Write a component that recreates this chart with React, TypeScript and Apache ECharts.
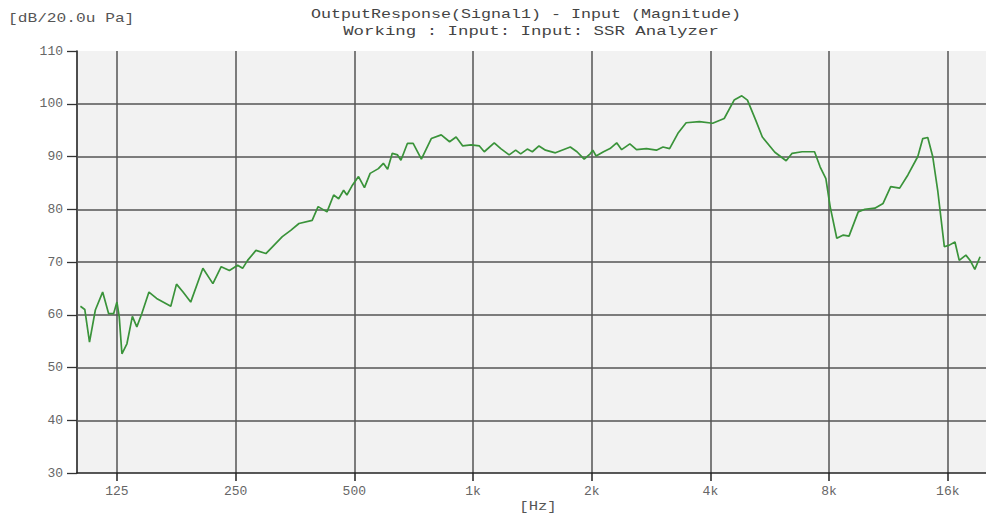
import React, { useEffect, useRef } from "react";
import * as echarts from "echarts";

const freqHz = [101, 103.6, 106.5, 110.2, 115, 119.1, 122.6, 125, 126.7, 128.7, 132.5, 136.8, 140.4, 144.5, 150.7, 157.6, 171.2, 177, 183.9, 192.3, 206.5, 218.9, 229.8, 241.1, 253, 260.4, 268.1, 281.5, 298.3, 313, 328.4, 344.9, 361.9, 390.9, 404.7, 426.3, 443.2, 456.3, 469.7, 478.8, 492.9, 512.4, 530.5, 548.4, 575.4, 592.4, 607.3, 624.1, 643.6, 656.4, 682, 705, 739.7, 783.8, 830.6, 872.1, 906, 941.9, 988.4, 1038, 1068, 1132, 1176, 1235, 1283, 1321, 1373, 1414, 1470, 1527, 1618, 1765, 1835, 1914, 1982, 2013, 2052, 2143, 2226, 2314, 2382, 2499, 2598, 2753, 2918, 3033, 3152, 3309, 3472, 3751, 4053, 4336, 4595, 4805, 4966, 5211, 5417, 5828, 6226, 6446, 6831, 7348, 7595, 7851, 8049, 8368, 8694, 8987, 9485, 9860, 10450, 10965, 11465, 12079, 12675, 13431, 13826, 14233, 14651, 15084, 15680, 16143, 16685, 17106, 17783, 18232, 18736, 19319];

const levelDb = [61.6, 61.0, 54.8, 60.9, 64.3, 60.2, 60.2, 62.4, 59.6, 52.6, 54.5, 59.7, 57.7, 60.2, 64.3, 63.1, 61.6, 65.8, 64.3, 62.4, 68.8, 65.9, 69.1, 68.4, 69.4, 68.8, 70.3, 72.2, 71.6, 73.2, 74.8, 76.0, 77.3, 77.9, 80.5, 79.5, 82.7, 82.0, 83.6, 82.7, 84.4, 86.2, 84.1, 86.8, 87.7, 88.7, 87.6, 90.6, 90.3, 89.3, 92.5, 92.5, 89.5, 93.4, 94.1, 92.8, 93.7, 92.0, 92.2, 92.0, 90.9, 92.6, 91.5, 90.3, 91.2, 90.5, 91.4, 90.9, 92.0, 91.2, 90.7, 91.8, 90.9, 89.5, 90.5, 91.2, 90.1, 90.9, 91.5, 92.6, 91.3, 92.4, 91.3, 91.5, 91.2, 91.8, 91.5, 94.4, 96.4, 96.6, 96.3, 97.2, 100.7, 101.5, 100.7, 96.9, 93.7, 90.8, 89.2, 90.6, 90.9, 90.9, 88.0, 85.8, 80.5, 74.5, 75.1, 74.9, 79.5, 80.0, 80.2, 81.1, 84.3, 84.0, 86.5, 90.0, 93.4, 93.6, 90.0, 83.6, 72.9, 73.2, 73.8, 70.3, 71.3, 70.3, 68.6, 71.0];

const xTickValues = [125, 250, 500, 1000, 2000, 4000, 8000, 16000];
const yGridValues = [40, 50, 60, 70, 80, 90, 100];
const yUnitLabel = "[dB/20.0u Pa]";
const xUnitLabel = "[Hz]";
const titleLine1 = "OutputResponse(Signal1) - Input (Magnitude)";
const titleLine2 = "Working : Input: Input: SSR Analyzer";

const MONO = "'Liberation Mono', 'DejaVu Sans Mono', monospace";
const GRID_COLOR = "#555555";
const AXIS_COLOR = "#222222";

export default function App() {
  const ref = useRef<HTMLDivElement>(null);
  useEffect(() => {
    document.body.style.margin = "0";
    const chart = echarts.init(ref.current!, undefined, { renderer: "svg" });
    const data = freqHz.map((f, i) => [f, levelDb[i]]);
    chart.setOption({
      animation: false,
      backgroundColor: "#ffffff",
      grid: {
        left: 77,
        top: 51,
        bottom: 42,
        right: -6,
        show: false,
      },
      xAxis: {
        type: "log",
        min: 99,
        max: 20000,
        axisLine: { show: true, lineStyle: { color: AXIS_COLOR, width: 1.6 } },
        axisTick: {
          show: true,
          length: 8,
          customValues: xTickValues,
          lineStyle: { color: AXIS_COLOR, width: 1.5 },
        },
        axisLabel: {
          customValues: xTickValues,
          margin: 12,
          color: "#666",
          fontFamily: MONO,
          fontSize: 13,
          formatter: (v: number) => (v >= 1000 ? v / 1000 + "k" : String(v)),
        },
        splitLine: {
          show: true,
          lineStyle: { color: GRID_COLOR, width: 1.5 },
        },
        minorSplitLine: { show: false },
      },
      yAxis: {
        type: "value",
        min: 30,
        max: 110,
        interval: 10,
        axisLine: { show: true, lineStyle: { color: AXIS_COLOR, width: 1.6 } },
        axisTick: { show: true, length: 10, lineStyle: { color: "#333", width: 1.3 } },
        axisLabel: {
          margin: 14,
          color: "#666",
          fontFamily: MONO,
          fontSize: 13,
        },
        splitArea: {
          show: true,
          areaStyle: { color: ["#f2f2f2"] },
        },
        splitLine: { show: false },
      },
      graphic: [
        {
          type: "text",
          x: 8,
          y: 19,
          scaleX: 1.35,
          style: {
            text: yUnitLabel,
            font: `12px ${MONO}`,
            fill: "#555",
            textAlign: "left",
            textVerticalAlign: "middle",
          },
        },
        {
          type: "text",
          x: 526,
          y: 15,
          scaleX: 1.39,
          style: {
            text: titleLine1,
            font: `12px ${MONO}`,
            fill: "#444",
            textAlign: "center",
            textVerticalAlign: "middle",
          },
        },
        {
          type: "text",
          x: 531,
          y: 32,
          scaleX: 1.45,
          style: {
            text: titleLine2,
            font: `12px ${MONO}`,
            fill: "#444",
            textAlign: "center",
            textVerticalAlign: "middle",
          },
        },
        {
          type: "text",
          x: 538,
          y: 507,
          scaleX: 1.3,
          style: {
            text: xUnitLabel,
            font: `12px ${MONO}`,
            fill: "#555",
            textAlign: "center",
            textVerticalAlign: "middle",
          },
        },
      ],
      series: [
        {
          type: "line",
          name: "grid",
          data: [],
          silent: true,
          z: 1,
          markLine: {
            silent: true,
            symbol: "none",
            label: { show: false },
            lineStyle: { color: GRID_COLOR, width: 1.5, type: "solid" },
            data: yGridValues.map((v) => ({ yAxis: v })),
          },
        },
        {
          type: "line",
          data,
          showSymbol: false,
          smooth: false,
          lineStyle: { color: "#3a933a", width: 1.7 },
          z: 5,
        },
      ],
    });
    return () => chart.dispose();
  }, []);
  return <div ref={ref} style={{ width: 986, height: 515 }} />;
}
